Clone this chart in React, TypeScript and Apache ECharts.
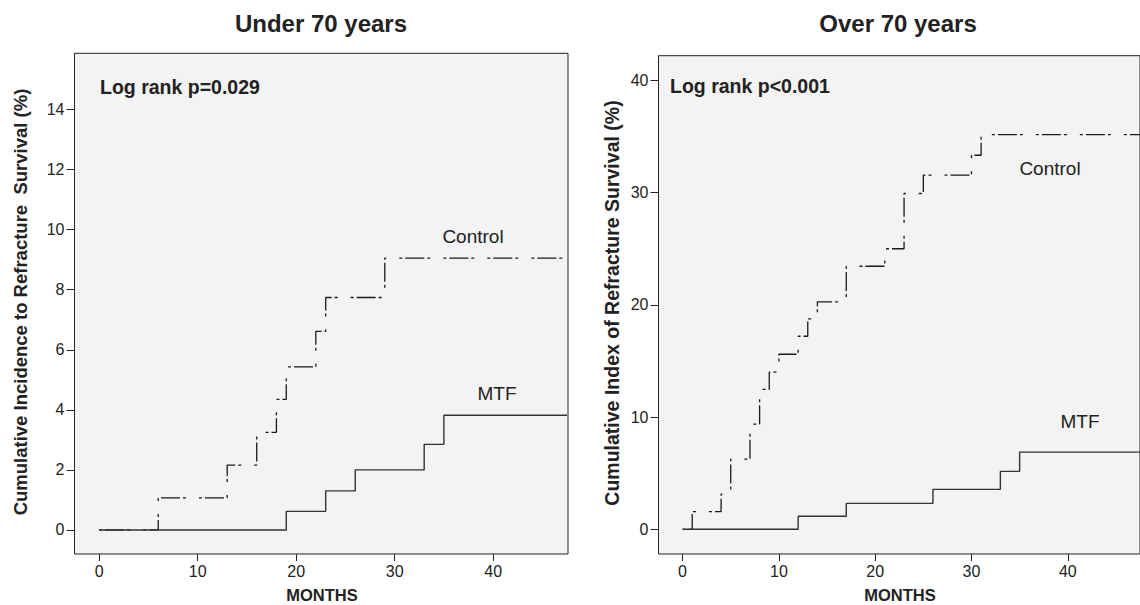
import React, { useEffect, useRef } from "react";
import * as echarts from "echarts";

// ---- data ----
const MONTH_END = 47.5;
const monthTicks = [0, 10, 20, 30, 40];
const leftPctTicks = [0, 2, 4, 6, 8, 10, 12, 14];
const rightPctTicks = [0, 10, 20, 30, 40];

const leftControlMonths = [0, 6, 13, 16, 18, 19, 22, 23, 29];
const leftControlPct = [0, 1.07, 2.16, 3.25, 4.35, 5.43, 6.61, 7.74, 9.05];
const leftMtfMonths = [0, 19, 23, 26, 33, 35];
const leftMtfPct = [0, 0.62, 1.3, 2.0, 2.85, 3.82];

const rightControlMonths = [0, 1, 4, 5, 7, 8, 9, 10, 12, 13, 14, 17, 21, 23, 25, 30, 31];
const rightControlPct = [0, 1.57, 3.13, 6.26, 9.38, 12.47, 14.0, 15.6, 17.2, 18.75, 20.27, 23.44, 25.0, 29.92, 31.55, 33.33, 35.17];
const rightMtfMonths = [0, 12, 17, 26, 33, 35];
const rightMtfPct = [0, 1.16, 2.31, 3.56, 5.16, 6.88];

const FONT = '"Liberation Sans", Arial, Helvetica, sans-serif';
const INK = "#222";

function stepData(months: number[], pct: number[]) {
  const d = months.map((m, i) => [m, pct[i]]);
  d.push([MONTH_END, pct[pct.length - 1]]);
  return d;
}

const DASH = [3, 3, 19, 3, 3, 13];

function xAxis(gridIndex: number) {
  return {
    type: "value",
    gridIndex,
    position: "bottom",
    min: -2.5,
    max: MONTH_END + (gridIndex === 0 ? 0.1 : 0),
    axisLine: { show: false, onZero: false },
    splitLine: { show: false },
    axisTick: { show: true, inside: false, length: 7, customValues: monthTicks, lineStyle: { color: INK, width: 1 } },
    axisLabel: { customValues: monthTicks, fontSize: 16, color: INK, fontFamily: FONT, margin: 9 },
  };
}

function yAxis(gridIndex: number, min: number, max: number, ticks: number[]) {
  return {
    type: "value",
    gridIndex,
    position: "left",
    min,
    max,
    axisLine: { show: false, onZero: false },
    splitLine: { show: false },
    axisTick: { show: true, inside: false, length: 8, customValues: ticks, lineStyle: { color: INK, width: 1 } },
    axisLabel: { customValues: ticks, fontSize: 16, color: INK, fontFamily: FONT, margin: 10 },
  };
}

function txt(text: string, x: number, y: number, size: number, bold: boolean, align = "center", rotation = 0) {
  return {
    type: "text",
    x,
    y,
    rotation,
    style: {
      text,
      fill: INK,
      font: `${bold ? "bold " : ""}${size}px ${FONT}`,
      align,
      verticalAlign: "middle",
    },
  };
}

export default function App() {
  const ref = useRef<HTMLDivElement>(null);
  useEffect(() => {
    if (!ref.current) return;
    const chart = echarts.init(ref.current, null, { renderer: "svg" });
    const gridStyle = { show: true, backgroundColor: "#f3f3f3", borderColor: INK, borderWidth: 1 };
    chart.setOption({
      animation: false,
      backgroundColor: "#ffffff",
      grid: [
        { left: 74.5, top: 53.3, width: 493.5, height: 500.7, ...gridStyle },
        { left: 658.5, top: 55.7, width: 488.5, height: 498.3, ...gridStyle },
      ],
      xAxis: [xAxis(0), xAxis(1)],
      yAxis: [yAxis(0, -0.8, 15.87, leftPctTicks), yAxis(1, -2.2, 42.2, rightPctTicks)],
      series: [
        {
          type: "line", xAxisIndex: 0, yAxisIndex: 0, step: "end", symbol: "none",
          data: stepData(leftControlMonths, leftControlPct),
          lineStyle: { color: "#1a1a1a", width: 1.3, type: DASH },
        },
        {
          type: "line", xAxisIndex: 0, yAxisIndex: 0, step: "end", symbol: "none",
          data: stepData(leftMtfMonths, leftMtfPct),
          lineStyle: { color: "#333", width: 1.4, type: "solid" },
        },
        {
          type: "line", xAxisIndex: 1, yAxisIndex: 1, step: "end", symbol: "none",
          data: stepData(rightControlMonths, rightControlPct),
          lineStyle: { color: "#1a1a1a", width: 1.3, type: DASH },
        },
        {
          type: "line", xAxisIndex: 1, yAxisIndex: 1, step: "end", symbol: "none",
          data: stepData(rightMtfMonths, rightMtfPct),
          lineStyle: { color: "#333", width: 1.4, type: "solid" },
        },
      ],
      graphic: [
        txt("Under 70 years", 321, 23, 24, true),
        txt("Over 70 years", 898, 23, 24, true),
        txt("Cumulative Incidence to Refracture  Survival (%)", 20, 302, 18.5, true, "center", Math.PI / 2),
        txt("Cumulative Index of Refracture Survival (%)", 612, 303, 19.5, true, "center", Math.PI / 2),
        txt("MONTHS", 322, 595, 16.5, true),
        txt("MONTHS", 900, 595, 16.5, true),
        txt("Log rank p=0.029", 100, 87, 19.5, true, "left"),
        txt("Log rank p<0.001", 670, 86, 19.5, true, "left"),
        txt("Control", 473, 236, 19, false),
        txt("MTF", 497, 393, 19, false),
        txt("Control", 1050, 168, 19, false),
        txt("MTF", 1080, 421, 19, false),
      ],
    });
    return () => chart.dispose();
  }, []);
  return (
    <div
      ref={ref}
      style={{ position: "absolute", left: 0, top: 0, width: 1140, height: 605, background: "#fff" }}
    />
  );
}
